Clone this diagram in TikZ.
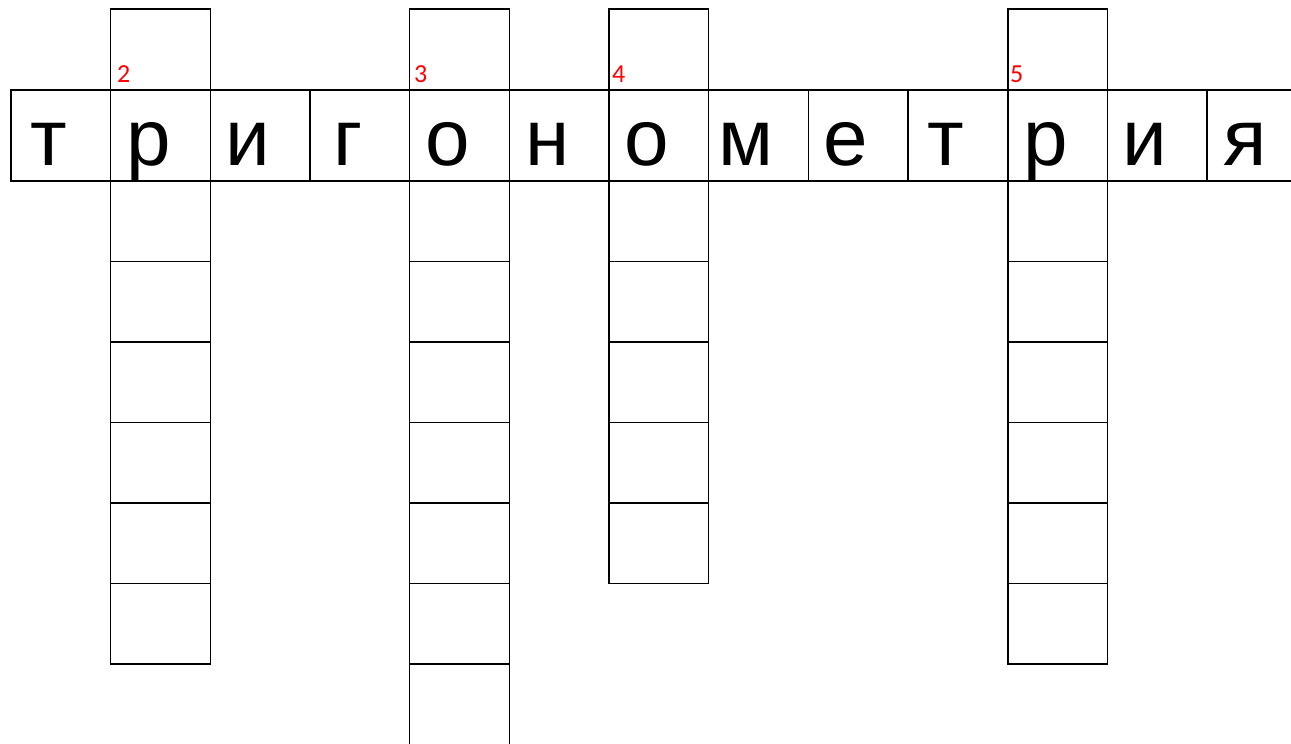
\documentclass[tikz,border=0pt]{standalone}
\usepackage{fontspec}
\newfontfamily\letterfont{Liberation Sans}
\newfontfamily\numfont{Carlito}
\begin{document}
\begin{tikzpicture}[x=1pt,y=-1pt,
  grid/.style={line width=1.6pt, line cap=rect},
  letter/.style={font=\letterfont\fontsize{80}{80}\selectfont, anchor=base, inner sep=0pt},
  num/.style={font=\numfont\fontsize{26}{26}\selectfont, text=red, anchor=base west, inner sep=0pt}]
\useasboundingbox (0,0) rectangle (1291,744);
\clip (0,0) rectangle (1291,744);
\def\cw{99.67}
% main row
\draw[grid] (11,90) rectangle (1306,181);
\foreach \i in {1,...,12} \draw[grid] ({11+\i*\cw},90) -- ({11+\i*\cw},181);
% vertical columns
\foreach \c/\n/\h in {1/6/6,4/7/6,6/5/5,10/6/6}{
  \draw[grid] ({11+\c*\cw},9) rectangle ({11+(\c+1)*\cw},90);
  \draw[grid] ({11+\c*\cw},181) -- ({11+\c*\cw},{181+\n*80.5});
  \draw[grid] ({11+(\c+1)*\cw},181) -- ({11+(\c+1)*\cw},{181+\n*80.5});
  \foreach \k in {1,...,\h} \draw[grid] ({11+\c*\cw},{181+\k*80.5}) -- ({11+(\c+1)*\cw},{181+\k*80.5});
}
% letters
\foreach \l [count=\i from 0] in {т,р,и,г,о,н,о,м,е,т,р,и,я}
  \node[letter] (L\i) at ({11+\i*\cw+49.8-12},165) {\l};
% clue numbers
\node[num] (N2) at (117,82) {2};
\node[num] (N3) at (414,82) {3};
\node[num] (N4) at (612,82) {4};
\node[num] (N5) at (1010,82) {5};
\end{tikzpicture}
\end{document}
